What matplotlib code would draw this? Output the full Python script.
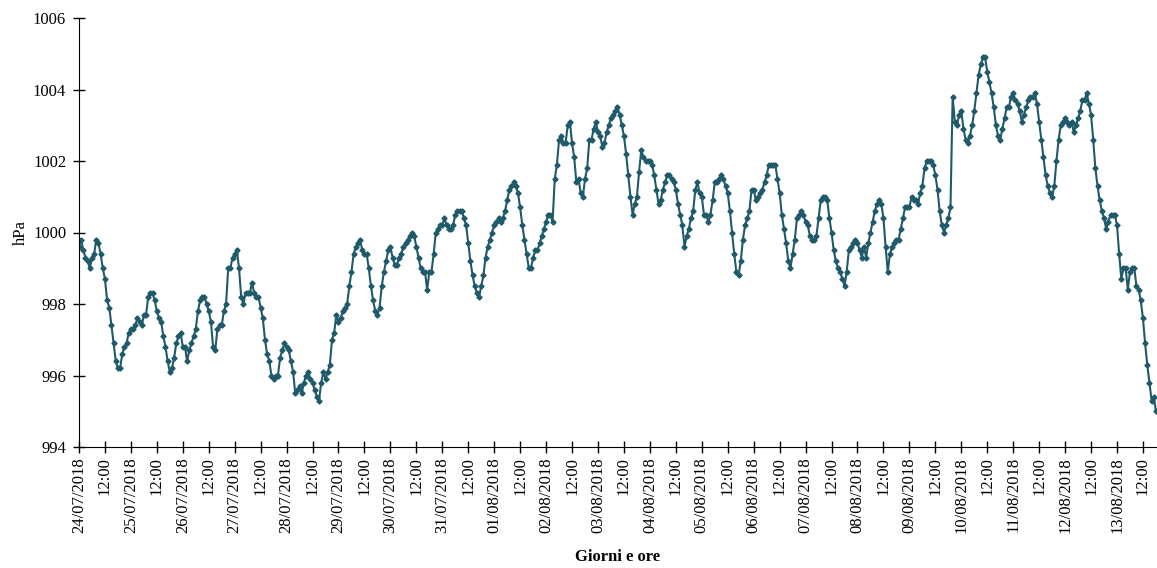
import numpy as np
import pandas as pd
import matplotlib
matplotlib.use('Agg')
import matplotlib.pyplot as plt

plt.rcParams['font.family'] = ['Liberation Serif', 'DejaVu Serif']

# hourly pressure readings (hPa) from 24/07/2018 00:00
start = '2018-07-24 00:00'
pressure = [
    # 24/07
    999.6, 999.8, 999.5, 999.3, 999.2, 999.0, 999.3, 999.4, 999.8, 999.7, 999.4, 999.0,
    998.7, 998.1, 997.9, 997.4, 996.9, 996.4, 996.2, 996.2, 996.6, 996.8, 996.9, 997.2,
    # 25/07
    997.3, 997.3, 997.4, 997.6, 997.5, 997.4, 997.7, 997.7, 998.2, 998.3, 998.3, 998.1,
    997.8, 997.6, 997.5, 997.1, 996.8, 996.4, 996.1, 996.2, 996.5, 996.9, 997.1, 997.2,
    # 26/07
    996.8, 996.8, 996.4, 996.7, 996.9, 997.1, 997.3, 997.8, 998.1, 998.2, 998.2, 998.0,
    997.8, 997.5, 996.8, 996.7, 997.3, 997.4, 997.4, 997.8, 998.0, 999.0, 999.0, 999.3,
    # 27/07
    999.4, 999.5, 999.0, 998.2, 998.0, 998.3, 998.3, 998.3, 998.6, 998.3, 998.2, 998.2,
    997.9, 997.6, 997.0, 996.6, 996.4, 996.0, 995.9, 996.0, 996.0, 996.5, 996.7, 996.9,
    # 28/07
    996.8, 996.7, 996.4, 996.1, 995.5, 995.6, 995.7, 995.5, 995.8, 996.0, 996.1, 995.9,
    995.8, 995.6, 995.4, 995.3, 995.8, 996.1, 995.9, 996.1, 996.3, 997.0, 997.2, 997.7,
    # 29/07
    997.5, 997.6, 997.8, 997.9, 998.0, 998.5, 998.9, 999.4, 999.6, 999.7, 999.8, 999.5,
    999.4, 999.4, 999.0, 998.5, 998.1, 997.8, 997.7, 997.9, 998.5, 998.9, 999.2, 999.5,
    # 30/07
    999.6, 999.3, 999.1, 999.1, 999.3, 999.4, 999.6, 999.7, 999.8, 999.9, 1000.0, 999.9,
    999.6, 999.3, 999.0, 998.9, 998.9, 998.4, 998.9, 998.9, 999.4, 1000.0, 1000.1, 1000.2,
    # 31/07
    1000.2, 1000.4, 1000.2, 1000.1, 1000.1, 1000.2, 1000.5, 1000.6, 1000.6, 1000.6, 1000.4, 1000.2,
    999.7, 999.2, 998.8, 998.5, 998.3, 998.2, 998.5, 998.8, 999.3, 999.6, 999.8, 1000.0,
    # 01/08
    1000.2, 1000.3, 1000.4, 1000.3, 1000.4, 1000.6, 1000.9, 1001.2, 1001.3, 1001.4, 1001.3, 1001.1,
    1000.7, 1000.2, 999.8, 999.4, 999.0, 999.0, 999.3, 999.5, 999.5, 999.7, 999.9, 1000.1,
    # 02/08
    1000.3, 1000.5, 1000.5, 1000.3, 1001.5, 1001.9, 1002.6, 1002.7, 1002.5, 1002.5, 1003.0, 1003.1,
    1002.5, 1002.1, 1001.4, 1001.5, 1001.1, 1001.0, 1001.5, 1001.8, 1002.6, 1002.6, 1002.9, 1003.1,
    # 03/08
    1002.8, 1002.7, 1002.4, 1002.5, 1002.8, 1003.0, 1003.2, 1003.3, 1003.4, 1003.5, 1003.3, 1003.0,
    1002.7, 1002.2, 1001.6, 1001.0, 1000.5, 1000.8, 1001.0, 1001.7, 1002.3, 1002.1, 1002.0, 1002.0,
    # 04/08
    1002.0, 1001.9, 1001.6, 1001.2, 1000.8, 1000.9, 1001.2, 1001.4, 1001.6, 1001.6, 1001.5, 1001.4,
    1001.2, 1000.8, 1000.5, 1000.2, 999.6, 999.9, 1000.1, 1000.4, 1000.6, 1001.2, 1001.4, 1001.1,
    # 05/08
    1001.0, 1000.5, 1000.5, 1000.3, 1000.5, 1000.9, 1001.4, 1001.4, 1001.5, 1001.6, 1001.5, 1001.3,
    1001.1, 1000.6, 1000.0, 999.4, 998.9, 998.8, 999.2, 999.8, 1000.2, 1000.4, 1000.6, 1001.2,
    # 06/08
    1001.2, 1000.9, 1001.0, 1001.1, 1001.2, 1001.4, 1001.6, 1001.9, 1001.9, 1001.9, 1001.9, 1001.5,
    1001.1, 1000.5, 1000.1, 999.7, 999.2, 999.0, 999.4, 999.8, 1000.4, 1000.5, 1000.6, 1000.5,
    # 07/08
    1000.3, 1000.2, 999.9, 999.8, 999.8, 999.9, 1000.4, 1000.9, 1001.0, 1001.0, 1000.9, 1000.4,
    1000.0, 999.5, 999.2, 999.0, 998.9, 998.7, 998.5, 998.9, 999.5, 999.6, 999.7, 999.8,
    # 08/08
    999.7, 999.5, 999.3, 999.6, 999.3, 999.7, 1000.0, 1000.3, 1000.6, 1000.8, 1000.9, 1000.8,
    1000.4, 999.6, 998.9, 999.4, 999.6, 999.7, 999.8, 999.8, 1000.1, 1000.4, 1000.7, 1000.7,
    # 09/08
    1000.7, 1001.0, 1000.9, 1000.9, 1000.8, 1001.1, 1001.3, 1001.8, 1002.0, 1002.0, 1002.0, 1001.9,
    1001.6, 1001.2, 1000.6, 1000.2, 1000.0, 1000.2, 1000.4, 1000.7, 1003.8, 1003.1, 1003.0, 1003.3,
    # 10/08
    1003.4, 1002.9, 1002.6, 1002.5, 1002.7, 1003.0, 1003.4, 1003.9, 1004.4, 1004.7, 1004.9, 1004.9,
    1004.5, 1004.2, 1003.9, 1003.5, 1003.0, 1002.7, 1002.6, 1002.9, 1003.2, 1003.5, 1003.5, 1003.8,
    # 11/08
    1003.9, 1003.7, 1003.6, 1003.4, 1003.1, 1003.3, 1003.5, 1003.7, 1003.8, 1003.8, 1003.9, 1003.6,
    1003.1, 1002.6, 1002.1, 1001.6, 1001.3, 1001.1, 1001.0, 1001.3, 1002.0, 1002.6, 1003.0, 1003.1,
    # 12/08
    1003.2, 1003.1, 1003.0, 1003.1, 1002.8, 1003.0, 1003.2, 1003.4, 1003.7, 1003.7, 1003.9, 1003.6,
    1003.3, 1002.6, 1001.8, 1001.3, 1000.9, 1000.6, 1000.4, 1000.1, 1000.3, 1000.5, 1000.5, 1000.5,
    # 13/08
    1000.2, 999.4, 998.7, 999.0, 999.0, 998.4, 998.9, 999.0, 999.0, 998.5, 998.4, 998.1,
    997.6, 996.9, 996.3, 995.8, 995.3, 995.4, 995.0,
]

times = pd.date_range(start, periods=len(pressure), freq='h')
tick_times = times[::12]
tick_labels = [t.strftime('%d/%m/%Y') if t.hour == 0 else t.strftime('%H:%M') for t in tick_times]
y_ticks = [994, 996, 998, 1000, 1002, 1004, 1006]

W, H = 1157, 568
fig = plt.figure(figsize=(W / 100, H / 100), dpi=100)
ax = fig.add_axes([79 / W, 1 - 447 / H, 1078 / W, 429 / H])

hrs = np.arange(len(pressure))
ax.plot(hrs, pressure, color='#1f5a6b', lw=1.5, marker='D', ms=2.6,
        mec='#1f5a6b', mfc='#1f5a6b')

ax.set_xlim(0, 498.5)
ax.set_ylim(994, 1006)
ax.set_yticks(y_ticks)
ax.set_xticks(hrs[::12])
ax.set_xticklabels(tick_labels, rotation=90)

ax.tick_params(direction='inout', length=8.5, width=1, labelsize=12, colors='black')
ax.tick_params(axis='y', pad=5)
ax.tick_params(axis='x', pad=3)
ax.spines['top'].set_visible(False)
ax.spines['right'].set_visible(False)

ax.set_ylabel('hPa', fontsize=12, labelpad=3)
ax.set_xlabel('Giorni e ore', fontsize=12, fontweight='bold', labelpad=12)

fig.savefig('out.png', dpi=100)
